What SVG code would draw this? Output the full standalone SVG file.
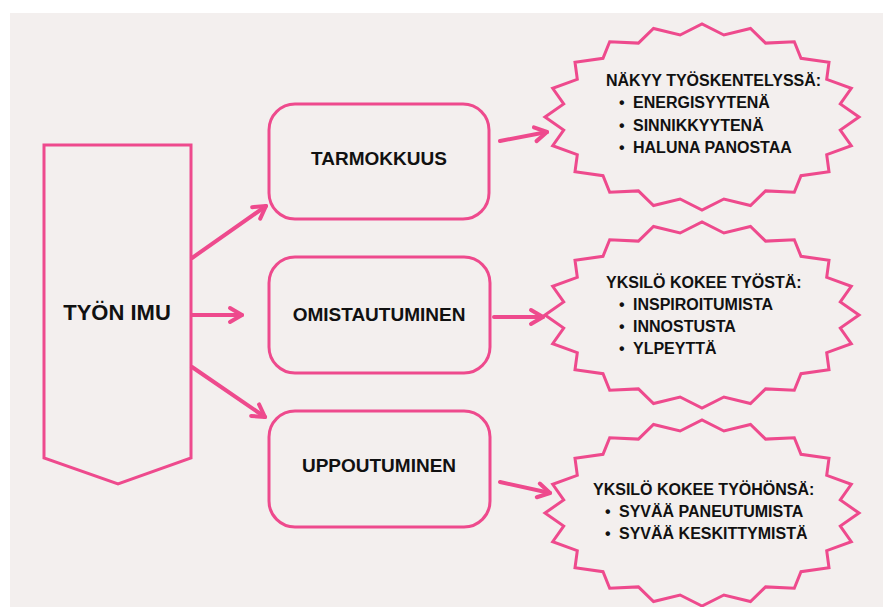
<svg xmlns="http://www.w3.org/2000/svg" xmlns:xlink="http://www.w3.org/1999/xlink" width="883" height="607" viewBox="0 0 883 607">
  <style>
    .shape { fill: none; stroke: #ee4a8d; stroke-width: 3; stroke-linejoin: miter; }
    .conn { fill: none; stroke: #ee4a8d; stroke-width: 4; stroke-linecap: round; }
    .t { font-family: "Liberation Sans", Arial, sans-serif; font-weight: bold; fill: #111111; }
    .big { font-size: 22px; text-anchor: middle; }
    .box { font-size: 19px; text-anchor: middle; }
    .sm { font-size: 16px; }
  </style>
  <defs>
    <marker id="chev" markerUnits="userSpaceOnUse" viewBox="-16 -10 20 20" refX="0" refY="0" markerWidth="20" markerHeight="20" orient="auto">
      <path d="M-12,-7 L0,0 L-12,7" fill="none" stroke="#ee4a8d" stroke-width="4" stroke-linecap="round" stroke-linejoin="round"/>
    </marker>
    <polygon id="burst" points="157,0 138.3,-13 149.3,-28.7 124.7,-37.7 127,-54.7 99,-58.7 92.3,-75.2 63.6,-73.9 48.5,-88.5 21.9,-82 0,-93 -21.9,-82 -48.5,-88.5 -63.6,-73.9 -92.3,-75.2 -99,-58.7 -127,-54.7 -124.7,-37.7 -149.3,-28.7 -138.3,-13 -157,0 -138.3,13 -149.3,28.7 -124.7,37.7 -127,54.7 -99,58.7 -92.3,75.2 -63.6,73.9 -48.5,88.5 -21.9,82 0,93 21.9,82 48.5,88.5 63.6,73.9 92.3,75.2 99,58.7 127,54.7 124.7,37.7 149.3,28.7 138.3,13"/>
  </defs>

  <rect x="10" y="13" width="873" height="594" fill="#f3efee"/>

  <g id="tyon-imu">
    <polygon class="shape" points="44,145 191,145 191,458 118,484 44,458"/>
    <text class="t big" x="117" y="320">TYÖN IMU</text>
  </g>

  <g id="tarmokkuus">
    <rect class="shape" x="269" y="104" width="220" height="115" rx="26" ry="26"/>
    <text class="t box" x="379" y="165">TARMOKKUUS</text>
  </g>

  <g id="omistautuminen">
    <rect class="shape" x="269" y="257" width="221" height="116" rx="26" ry="26"/>
    <text class="t box" x="379" y="321">OMISTAUTUMINEN</text>
  </g>

  <g id="uppoutuminen">
    <rect class="shape" x="269" y="411" width="221" height="116" rx="26" ry="26"/>
    <text class="t box" x="379" y="472">UPPOUTUMINEN</text>
  </g>

  <g id="burst-tarmokkuus">
    <use xlink:href="#burst" class="shape" transform="translate(702,117)"/>
    <text class="t sm" x="606" y="86">NÄKYY TYÖSKENTELYSSÄ:</text>
    <text class="t sm" x="619" y="108">•</text><text class="t sm" x="633" y="108">ENERGISYYTENÄ</text>
    <text class="t sm" x="619" y="131">•</text><text class="t sm" x="633" y="131">SINNIKKYYTENÄ</text>
    <text class="t sm" x="619" y="153">•</text><text class="t sm" x="633" y="153">HALUNA PANOSTAA</text>
  </g>

  <g id="burst-omistautuminen">
    <use xlink:href="#burst" class="shape" transform="translate(702,315)"/>
    <text class="t sm" x="606" y="288">YKSILÖ KOKEE TYÖSTÄ:</text>
    <text class="t sm" x="619" y="310">•</text><text class="t sm" x="633" y="310">INSPIROITUMISTA</text>
    <text class="t sm" x="619" y="332">•</text><text class="t sm" x="633" y="332">INNOSTUSTA</text>
    <text class="t sm" x="619" y="354">•</text><text class="t sm" x="633" y="354">YLPEYTTÄ</text>
  </g>

  <g id="burst-uppoutuminen">
    <use xlink:href="#burst" class="shape" transform="translate(702,513)"/>
    <text class="t sm" x="593" y="495">YKSILÖ KOKEE TYÖHÖNSÄ:</text>
    <text class="t sm" x="605" y="517">•</text><text class="t sm" x="619" y="517">SYVÄÄ PANEUTUMISTA</text>
    <text class="t sm" x="605" y="539">•</text><text class="t sm" x="619" y="539">SYVÄÄ KESKITTYMISTÄ</text>
  </g>

  <g id="connectors">
    <line class="conn" x1="192" y1="258" x2="266" y2="206" marker-end="url(#chev)"/>
    <line class="conn" x1="192" y1="315" x2="242" y2="315" marker-end="url(#chev)"/>
    <line class="conn" x1="192" y1="367" x2="265" y2="417" marker-end="url(#chev)"/>
    <line class="conn" x1="500" y1="141" x2="547" y2="132" marker-end="url(#chev)"/>
    <line class="conn" x1="494" y1="317" x2="543" y2="317" marker-end="url(#chev)"/>
    <line class="conn" x1="500" y1="482" x2="550" y2="493" marker-end="url(#chev)"/>
  </g>
</svg>
